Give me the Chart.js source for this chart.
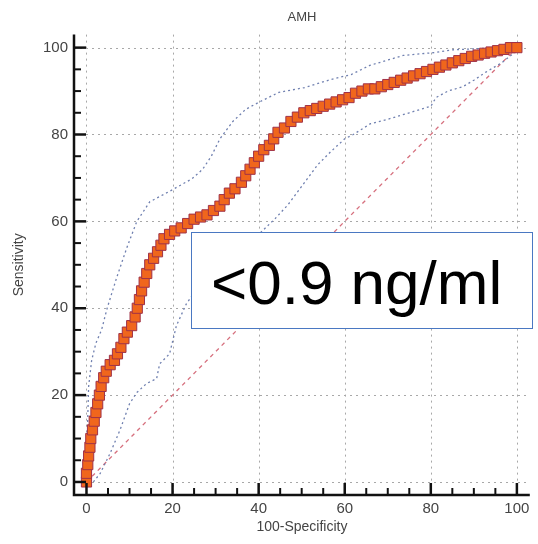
<!DOCTYPE html>
<html><head><meta charset="utf-8">
<script src="https://cdn.jsdelivr.net/npm/chart.js@4/dist/chart.umd.min.js"></script>
<style>
html,body{margin:0;padding:0;background:#fff;}
#wrap{position:relative;width:538px;height:544px;overflow:hidden;}
#note{position:absolute;left:191px;top:232px;width:342px;height:97px;border:1.5px solid #4a78c2;background:#fff;box-sizing:border-box;font-family:"Liberation Sans",Arial,sans-serif;font-size:62px;color:#000;line-height:86px;padding-top:7px;padding-left:19px;white-space:nowrap;}
</style></head>
<body><div id="wrap"><canvas id="c" width="538" height="544"></canvas><div id="note">&lt;0.9 ng/ml</div></div>
<script>
// ROC curve (100-Specificity, Sensitivity)
const rocX = [0,0,0.3,0.5,0.8,1,1.4,1.8,2.2,2.6,3,3.4,4,4.6,5.5,6.5,7.2,8,8.7,9.5,10.5,11.3,11.8,12.3,12.8,13.4,14,14.7,15.6,16.5,17.3,18,19.3,20.5,22,23.5,25,26.5,28,29.5,31,32,33.2,34.5,36,37,38,39,40,41.2,42.5,43.5,44.5,46,47.5,49,50.5,52,53.5,55,56.5,58,59.5,61,62.5,64,65.5,67,68.5,70,71.5,73,74.5,76,77.5,79,80.5,82,83.5,85,86.5,88,89.5,91,92.5,94,95.5,97,98.5,100];
const rocY = [0,2,4,6,8,10,12,14,16,18,20,22,24,25.5,27,28,29.5,31,33,34.5,36,38,40,42,44,46,48,50,51.5,53,54.5,56,57,57.8,58.5,59.5,60.5,61,61.5,62.5,63.5,65,66.5,67.5,69,70.5,72,73.5,75,76.5,77.5,79,80.5,81.5,83,84,85,85.5,86,86.5,87,87.5,88,88.5,89.5,90,90.5,90.5,91,91.5,92,92.5,93,93.5,94,94.5,95,95.5,96,96.5,97,97.5,98,98.3,98.7,99,99.3,99.6,100,100];
// Upper confidence bound
const upX = [0,0,0.3,0.5,1.2,2.2,3.5,4.8,7,9.4,11.7,14.7,20,24.5,27,29,31,34,37,40,44.7,50.7,56.9,61.5,65.8,73.6,81.2,85,92,100];
const upY = [0,5,15,22,28,32,35,40,47,54,60,64.5,67.3,69.8,72,75,79,83,85.8,87.4,89.7,90.8,92.7,93.8,95.9,98.2,98.9,99.5,99.8,100];
// Lower confidence bound
const loX = [1.6,3.2,5.5,7.8,10,11.7,14,16.3,17,19.3,20.9,23.2,26,30,35,40,43.8,46.8,50.7,53.7,56.7,60,62,66,70,75,80,81.2,84,87.4,90,92.7,96.6,99.5,100];
const loY = [0,2,6.6,12,18,20.6,22.7,23.8,27.2,29.5,36,41,45,49,53,57,60.6,63.8,69,73,76,79,80,82.5,83.5,85,86.5,88.5,90,91,92.5,94.3,96.6,98.9,100];
// Reference diagonal
const diagX = [0,100];
const diagY = [0,100];
// Axis ticks
const majorTicks = [0,20,40,60,80,100];
const minorStep = 5;

const pts = (xs, ys) => xs.map((x,i)=>({x:x, y:ys[i]}));
const FONT = '"Liberation Sans", Arial, sans-serif';

const axesPlugin = {
  id: 'axesPlugin',
  beforeDatasetsDraw(chart){
    const {ctx, chartArea:a, scales:{x,y}} = chart;
    ctx.save();
    ctx.strokeStyle = '#a8a8a8';
    ctx.lineWidth = 1;
    ctx.setLineDash([2,4]);
    majorTicks.forEach(v=>{
      const px = Math.round(x.getPixelForValue(v))+0.5;
      ctx.beginPath(); ctx.moveTo(px,a.top); ctx.lineTo(px,a.bottom); ctx.stroke();
      const py = Math.round(y.getPixelForValue(v))+0.5;
      ctx.beginPath(); ctx.moveTo(a.left,py); ctx.lineTo(a.right,py); ctx.stroke();
    });
    ctx.restore();
  },
  afterDatasetsDraw(chart){
    const {ctx, chartArea:a, scales:{x,y}} = chart;
    ctx.save();
    ctx.strokeStyle = '#111';
    ctx.setLineDash([]);
    ctx.lineWidth = 2.5;
    ctx.beginPath(); ctx.moveTo(a.left, a.top); ctx.lineTo(a.left, a.bottom); ctx.lineTo(a.right, a.bottom); ctx.stroke();
    for (let v = 0; v <= 100; v += minorStep){
      const major = majorTicks.includes(v);
      const len = major ? 12 : 7;
      ctx.lineWidth = major ? 2.5 : 2;
      const py = y.getPixelForValue(v);
      ctx.beginPath(); ctx.moveTo(a.left, py); ctx.lineTo(a.left+len, py); ctx.stroke();
      const px = x.getPixelForValue(v);
      ctx.beginPath(); ctx.moveTo(px, a.bottom); ctx.lineTo(px, a.bottom-len); ctx.stroke();
    }
    ctx.restore();
  }
};

const setTicks = s => { s.ticks = majorTicks.map(v=>({value:v})); };

new Chart(document.getElementById('c'), {
  type: 'scatter',
  data: {
    datasets: [
      { label:'AMH', data: pts(rocX, rocY), showLine:true, borderColor:'#8e2a55', borderWidth:5,
        pointStyle:'rect', pointRadius:7.2, pointBackgroundColor:'#f0661c', pointBorderColor:'#a03248', pointBorderWidth:1 },
      { label:'upper', data: pts(upX, upY), showLine:true, borderColor:'#7080b0', borderWidth:1.3, borderDash:[2,3], pointRadius:0 },
      { label:'lower', data: pts(loX, loY), showLine:true, borderColor:'#7080b0', borderWidth:1.3, borderDash:[2,3], pointRadius:0 },
      { label:'diag', data: pts(diagX, diagY), showLine:true, borderColor:'#d6707e', borderWidth:1.3, borderDash:[4,4], pointRadius:0 }
    ]
  },
  options: {
    responsive:false, animation:false, devicePixelRatio:1,
    layout:{ padding:{ left:0, right:4, top:0, bottom:0 } },
    plugins:{
      legend:{display:false}, tooltip:{enabled:false},
      title:{ display:true, text:'AMH', fullSize:false, color:'#444', font:{family:FONT, size:13, weight:'normal'}, padding:{top:10, bottom:9} }
    },
    scales:{
      x:{ type:'linear', min:-2.9, max:103,
        afterBuildTicks:setTicks,
        afterFit: s => { s.height = 49; },
        grid:{display:false, drawTicks:false}, border:{display:false},
        ticks:{ color:'#444', font:{family:FONT, size:15}, padding:5, maxRotation:0 },
        title:{ display:true, text:'100-Specificity', color:'#444', font:{family:FONT, size:14}, padding:{top:0,bottom:8} }
      },
      y:{ type:'linear', min:-3, max:103,
        afterBuildTicks:setTicks,
        afterFit: s => { s.width = 74; },
        grid:{display:false, drawTicks:false}, border:{display:false},
        ticks:{ color:'#444', font:{family:FONT, size:15}, padding:6 },
        title:{ display:true, text:'Sensitivity', color:'#444', font:{family:FONT, size:14}, padding:{top:11,bottom:0} }
      }
    }
  },
  plugins:[axesPlugin]
});
</script>
</body></html>
